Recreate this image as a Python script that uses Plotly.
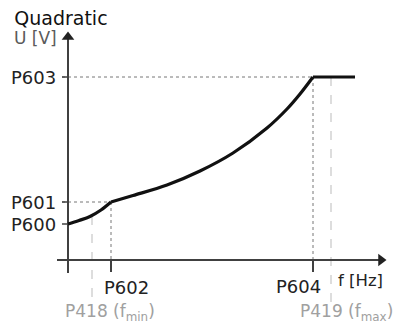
import plotly.graph_objects as go

# Parameter levels (data units: arbitrary frequency / voltage scale)
P600 = 36   # U at f=0
P601 = 58   # U at P602
P603 = 183  # U max
P602 = 43   # f knee
P604 = 245  # f at U max
P418 = 24   # f min
P419 = 263  # f max

# Curve segments
seg1_f = [0, 11, 22, 33, 43]
seg1_u = [36, 39.5, 43.5, 50, 58]
seg2_f = [43, 65, 99, 132, 165, 199, 219, 232, 245]
seg2_u = [58, 64.5, 75, 89, 107, 132, 151, 166, 183]
flat_f = [245, 287]
flat_u = [183, 183]

# axis extents
F_MIN_AX, F_MAX_AX = -11, 317
U_MIN_AX, U_MAX_AX = -13, 227

AX_COL = "#404040"
TXT = "#222222"
GRAY = "#a0a0a0"
FONT = "DejaVu Sans"

fig = go.Figure()

# guide lines
guide = dict(color="#777", width=1, dash="dot")
light = dict(color="#bbbbbb", width=1, dash="dash")
fig.add_trace(go.Scatter(x=[-6, P604], y=[P603, P603], mode="lines", line=guide))
fig.add_trace(go.Scatter(x=[-6, P602], y=[P601, P601], mode="lines", line=guide))
fig.add_trace(go.Scatter(x=[P602, P602], y=[P601, 0], mode="lines", line=guide))
fig.add_trace(go.Scatter(x=[P604, P604], y=[P603, 0], mode="lines", line=guide))
fig.add_trace(go.Scatter(x=[P418, P418], y=[44, -43], mode="lines", line=light))
fig.add_trace(go.Scatter(x=[P419, P419], y=[P603, -43], mode="lines", line=light))

# axes
ax_line = dict(color=AX_COL, width=2)
fig.add_trace(go.Scatter(x=[F_MIN_AX, F_MAX_AX - 6], y=[0, 0], mode="lines", line=ax_line))
fig.add_trace(go.Scatter(x=[0, 0], y=[U_MIN_AX, U_MAX_AX - 6], mode="lines", line=ax_line))
fig.add_trace(go.Scatter(x=[F_MAX_AX - 4], y=[0], mode="markers",
                         marker=dict(symbol="triangle-right", size=11, color="#222")))
fig.add_trace(go.Scatter(x=[0], y=[U_MAX_AX - 4], mode="markers",
                         marker=dict(symbol="triangle-up", size=11, color="#222")))

# ticks
tk = dict(color=AX_COL, width=2)
fig.add_trace(go.Scatter(x=[P602, P602], y=[0, -12], mode="lines", line=tk))
fig.add_trace(go.Scatter(x=[P604, P604], y=[0, -12], mode="lines", line=tk))
for v in [P600, P601, P603]:
    fig.add_trace(go.Scatter(x=[-6, 0], y=[v, v], mode="lines", line=dict(color=AX_COL, width=1.5)))

# curve
cl = dict(color="#111111", width=3.2)
fig.add_trace(go.Scatter(x=seg1_f, y=seg1_u, mode="lines", line=dict(cl, shape="spline")))
fig.add_trace(go.Scatter(x=seg2_f, y=seg2_u, mode="lines", line=dict(cl, shape="spline")))
fig.add_trace(go.Scatter(x=flat_f, y=flat_u, mode="lines", line=cl))

ann = []

def lab(text, x, y, xa="center", color=TXT, size=18, xs=0, ys=0):
    ann.append(dict(text=text, x=x, y=y, xref="x", yref="y", xanchor=xa, yanchor="middle",
                    showarrow=False, xshift=xs, yshift=ys,
                    font=dict(family=FONT, size=size, color=color)))

lab("P603", 0, P603, xa="right", xs=-10)
lab("P601", 0, P601, xa="right", xs=-10)
lab("P600", 0, P600, xa="right", xs=-10)
lab("U [V]", 0, 222, xa="right", xs=-9, color="#5a5a5a", size=17)
lab("P602", P602, 0, xa="left", xs=-9, ys=-27)
lab("P604", P604, 0, xa="right", xs=10, ys=-26)
lab("f [Hz]", F_MAX_AX, 0, xa="right", size=16.5, ys=-20)
lab("P418 (f<sub>min</sub>)", P418, 0, xa="left", xs=-29, ys=-52, color=GRAY, size=17)
lab("P419 (f<sub>max</sub>)", 328, 0, xa="right", xs=-1, ys=-52, color=GRAY, size=17)

fig.update_layout(
    width=396, height=329,
    margin=dict(l=0, r=0, t=0, b=0),
    paper_bgcolor="white", plot_bgcolor="white",
    showlegend=False,
    xaxis=dict(range=[-68, 328], visible=False, fixedrange=True),
    yaxis=dict(range=[-69, 260], visible=False, fixedrange=True),
    annotations=ann,
    title=dict(text="Quadratic", x=0.036, xanchor="left", y=0.945, yanchor="middle",
               font=dict(family=FONT, size=19, color="#111")),
)

fig.write_html("out.html", config={"displayModeBar": False},
               post_script="document.body.style.margin='0';document.body.style.overflow='hidden';")
